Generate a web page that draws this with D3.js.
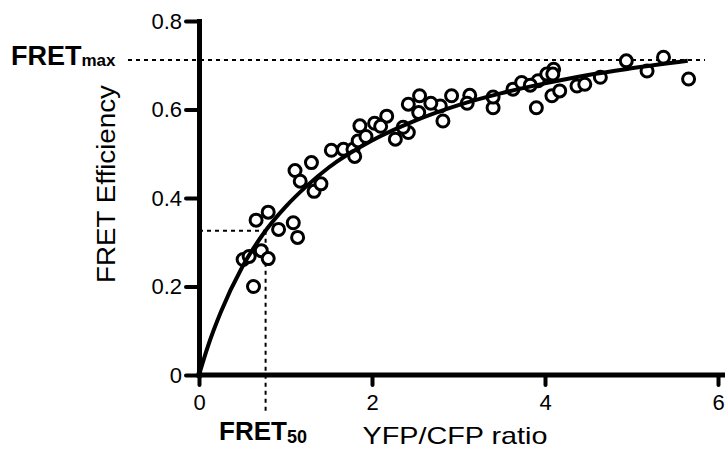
<!DOCTYPE html>
<html>
<head>
<meta charset="utf-8">
<script src="https://cdn.jsdelivr.net/npm/d3@7"></script>
<style>
  body { margin: 0; background: #fff; }
  text { font-family: "Liberation Sans", Arial, Helvetica, sans-serif; }
</style>
</head>
<body>
<div id="chart"></div>
<script>
// measured points (YFP/CFP ratio, FRET efficiency)
const ratio = [
  0.51, 0.58, 0.63, 0.72, 0.80, 0.66, 0.80, 0.92, 1.09, 1.14,
  1.11, 1.17, 1.30, 1.33, 1.41, 1.53, 1.67, 1.78, 1.84, 1.86,
  2.03, 2.17, 2.27, 2.42, 2.42, 2.54, 2.55, 2.79, 2.82, 2.92,
  3.13, 3.40, 3.40, 3.63, 3.73, 3.92, 3.90, 4.08, 4.10, 4.17,
  4.37, 4.46, 4.64, 4.94, 5.18, 5.37, 5.66, 4.02, 3.83, 3.10,
  1.80, 1.93, 2.10, 2.36, 2.68, 4.09
];
const efficiency = [
  0.261, 0.268, 0.200, 0.281, 0.263, 0.350, 0.368, 0.329, 0.344, 0.311,
  0.462, 0.438, 0.480, 0.415, 0.432, 0.508, 0.510, 0.510, 0.529, 0.563,
  0.569, 0.585, 0.533, 0.548, 0.612, 0.593, 0.631, 0.608, 0.574, 0.631,
  0.632, 0.604, 0.628, 0.646, 0.661, 0.665, 0.604, 0.631, 0.691, 0.642,
  0.653, 0.657, 0.673, 0.710, 0.687, 0.718, 0.669, 0.680, 0.655, 0.614,
  0.494, 0.539, 0.562, 0.560, 0.614, 0.680
];

// fitted curve
const fitX = [0, 0.1, 0.25, 0.5, 0.75, 1, 1.25, 1.5, 2, 2.5, 3, 3.5, 4, 4.5, 5, 5.65];
const fitY = [0, 0.063, 0.141, 0.244, 0.321, 0.380, 0.428, 0.469, 0.530, 0.575, 0.610, 0.637, 0.659, 0.678, 0.693, 0.710];

const xTicks = [0, 2, 4, 6];
const yTicks = [0, 0.2, 0.4, 0.6, 0.8];
const yTickLabels = ["0", "0.2", "0.4", "0.6", "0.8"];

// annotation values
const fretMax = 0.712;
const fret50X = 0.77;
const fret50Y = 0.326;

const width = 725, height = 450;

const svg = d3.select("#chart")
  .append("svg")
  .attr("width", width)
  .attr("height", height);

const x = d3.scaleLinear().domain([0, 6]).range([199, 718]);
const y = d3.scaleLinear().domain([0, 0.8]).range([375, 21]);

// dashed guide lines
const dash = svg.append("g")
  .attr("stroke", "#000")
  .attr("stroke-width", 2)
  .attr("stroke-dasharray", "4,4")
  .attr("fill", "none");

dash.append("line")
  .attr("x1", 128).attr("x2", x(5.85))
  .attr("y1", y(fretMax)).attr("y2", y(fretMax));

dash.append("line")
  .attr("x1", x(0)).attr("x2", x(fret50X))
  .attr("y1", y(fret50Y)).attr("y2", y(fret50Y));

dash.append("line")
  .attr("x1", x(fret50X)).attr("x2", x(fret50X))
  .attr("y1", y(fret50Y)).attr("y2", 412);

// axes
const yAxis = svg.append("g")
  .attr("transform", `translate(${x(0)},0)`)
  .call(d3.axisLeft(y).tickValues(yTicks)
    .tickFormat((d, i) => yTickLabels[i])
    .tickSize(13).tickSizeOuter(0).tickPadding(4));

const xAxis = svg.append("g")
  .attr("transform", `translate(0,${y(0)})`)
  .call(d3.axisBottom(x).tickValues(xTicks)
    .tickFormat(d3.format("d"))
    .tickSize(10).tickSizeOuter(0).tickPadding(9));

xAxis.select(".domain").attr("d", `M${x(0)},0H${width}`);

[xAxis, yAxis].forEach((g) => {
  g.select(".domain").attr("stroke-width", 5).attr("stroke-linecap", "square");
  g.selectAll(".tick line").attr("stroke-width", 4).attr("stroke-linecap", "round");
  g.selectAll(".tick text")
    .attr("fill", "#000")
    .style("font-size", "22px")
    .style("font-family", '"Liberation Sans", Arial, sans-serif');
});

// data circles
const points = ratio.map((r, i) => ({ r: r, e: efficiency[i] }));
svg.append("g")
  .selectAll("circle")
  .data(points)
  .join("circle")
  .attr("cx", (d) => x(d.r))
  .attr("cy", (d) => y(d.e))
  .attr("r", 6)
  .attr("fill", "#fff")
  .attr("stroke", "#000")
  .attr("stroke-width", 3);

// fitted curve on top
const line = d3.line()
  .x((d) => x(d[0]))
  .y((d) => y(d[1]))
  .curve(d3.curveMonotoneX);

svg.append("path")
  .datum(fitX.map((v, i) => [v, fitY[i]]))
  .attr("d", line)
  .attr("fill", "none")
  .attr("stroke", "#000")
  .attr("stroke-width", 4);

// axis titles
svg.append("text")
  .attr("transform", "translate(115,184) rotate(-90)")
  .attr("text-anchor", "middle")
  .attr("textLength", 198)
  .attr("lengthAdjust", "spacingAndGlyphs")
  .style("font-size", "26px")
  .text("FRET Efficiency");

svg.append("text")
  .attr("x", 455).attr("y", 444)
  .attr("text-anchor", "middle")
  .attr("textLength", 185)
  .attr("lengthAdjust", "spacingAndGlyphs")
  .style("font-size", "24px")
  .text("YFP/CFP ratio");

// FRETmax / FRET50 labels
const maxLabel = svg.append("text")
  .attr("x", 11).attr("y", 65)
  .style("font-size", "27px")
  .style("font-weight", "bold");
maxLabel.append("tspan").text("FRET");
maxLabel.append("tspan").style("font-size", "17px").attr("dy", 1).text("max");

const halfLabel = svg.append("text")
  .attr("x", 219).attr("y", 440)
  .style("font-size", "26px")
  .style("font-weight", "bold");
halfLabel.append("tspan").text("FRET");
halfLabel.append("tspan").style("font-size", "18px").attr("dy", 3).text("50");
</script>
</body>
</html>
